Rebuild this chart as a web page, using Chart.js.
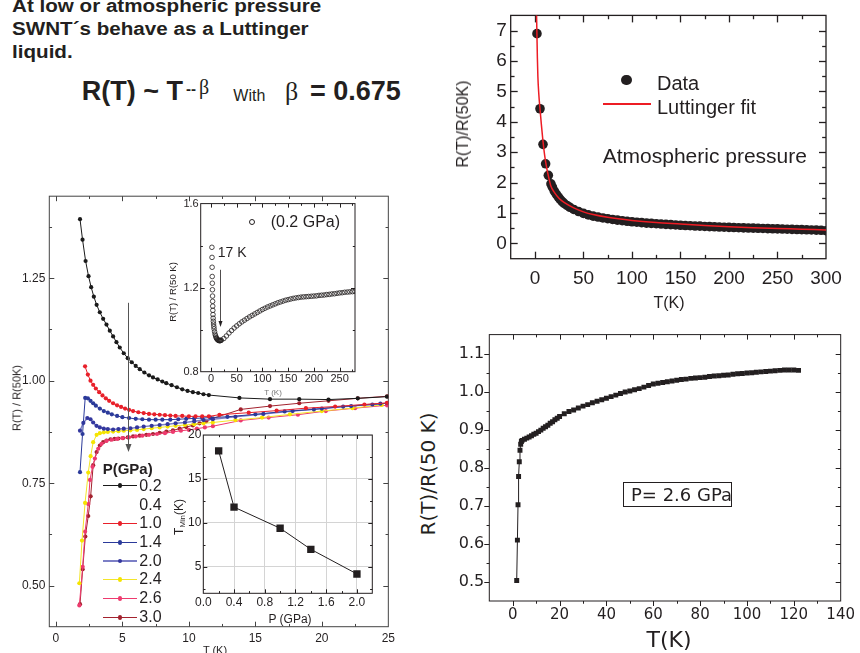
<!DOCTYPE html>
<html>
<head>
<meta charset="utf-8">
<title>SWNT Luttinger liquid</title>
<script src="https://cdn.jsdelivr.net/npm/chart.js@4.4.1/dist/chart.umd.min.js"></script>
<style>
  body { margin: 0; background: #fff; }
  #slide { position: relative; width: 860px; height: 653px; overflow: hidden; font-family: "Liberation Sans", Arial, sans-serif; color: #231f20; }
  #slide canvas { position: absolute; }
  .t { position: absolute; white-space: nowrap; line-height: 1; }
  .c { transform: translate(-50%, -50%); }
  .l { transform: translateY(-50%); }
  .v { transform: translate(-50%, -50%) rotate(-90deg); }
  .dv { font-family: "DejaVu Sans", sans-serif; }
  .sw { position: absolute; }
  sub { font-size: 0.65em; vertical-align: -0.25em; }
</style>
</head>
<body>
<div id="slide">
  <canvas id="cTR" width="420" height="320" style="left:440px;top:0"></canvas>
  <canvas id="cBR" width="420" height="333" style="left:440px;top:320px"></canvas>
  <canvas id="cBL" width="400" height="468" style="left:0;top:185px"></canvas>
  <canvas id="cIn1" width="205" height="195" style="left:160px;top:195px"></canvas>
  <canvas id="cIn2" width="210" height="205" style="left:170px;top:425px"></canvas>

  <!-- slide text -->
  <div class="t" style="left:11.7px;top:-4.9px;font-weight:bold;font-size:18px;line-height:22.7px;transform:scaleX(1.145);transform-origin:0 0">At low or atmospheric pressure<br>SWNT´s behave as a Luttinger<br>liquid.</div>
  <div class="t" style="left:81.7px;top:78.4px;font-weight:bold;font-size:27px">R(T) ~ T</div>
  <div class="t" style="left:186px;top:81px;font-weight:bold;font-size:15px">--</div>
  <div class="t" style="left:199px;top:77px;font-family:'Liberation Serif',serif;font-size:20px">β</div>
  <div class="t" style="left:233.3px;top:88.2px;font-size:16px">With</div>
  <div class="t" style="left:285px;top:79px;font-family:'Liberation Serif',serif;font-size:26px">β</div>
  <div class="t" style="left:310px;top:78.4px;font-weight:bold;font-size:27px">= 0.675</div>

  <!-- top right -->
  <div class="t v" style="left:463px;top:123.5px;font-size:16px">R(T)/R(50K)</div>
  <div class="t c" style="left:669px;top:303px;font-size:16px">T(K)</div>
  <div class="sw" style="left:621.4px;top:74.7px;width:10.6px;height:10.6px;border-radius:50%;background:#231f20"></div>
  <div class="t l" style="left:657px;top:83px;font-size:20px">Data</div>
  <div class="sw" style="left:602.7px;top:103.3px;width:48.3px;height:1.5px;background:#ed1c24"></div>
  <div class="t l" style="left:657px;top:107px;font-size:20px">Luttinger fit</div>
  <div class="t l" style="left:602.7px;top:155px;font-size:21px">Atmospheric pressure</div>

  <!-- bottom right -->
  <div class="t v dv" style="left:428px;top:474px;font-size:20px">R(T)/R(50 K)</div>
  <div class="t c dv" style="left:669px;top:640px;font-size:22px">T(K)</div>
  <div class="sw" style="left:623.3px;top:482.3px;width:109px;height:25px;border:1px solid #231f20;box-sizing:border-box"></div>
  <div class="t l dv" style="left:631px;top:494.5px;font-size:18px">P= 2.6 GPa</div>

  <!-- bottom left -->
  <div class="t v" style="left:16.7px;top:398px;font-size:11px">R(T) / R(50K)</div>
  <div class="t c" style="left:215px;top:650px;font-size:11px">T (K)</div>
  <div class="t l" style="left:102.7px;top:468.3px;font-weight:bold;font-size:15px">P(GPa)</div>
  <div id="legBL"></div>

  <!-- inset: 0.2 GPa -->
  <div class="t v" style="left:173px;top:292px;font-size:9.5px">R(T) / R(50 K)</div>
  <div class="t c" style="left:273px;top:393px;font-size:8px;color:#777">T (K)</div>
  <div class="sw" style="left:248.7px;top:218.7px;width:6px;height:6px;border:1px solid #231f20;border-radius:50%;box-sizing:border-box"></div>
  <div class="t l" style="left:270.7px;top:222px;font-size:16px">(0.2 GPa)</div>
  <div class="t l" style="left:217.7px;top:252px;font-size:14px">17 K</div>

  <!-- inset: T min -->
  <div class="t v" style="left:180px;top:517px;font-size:12px">T<sub>Min</sub>(K)</div>
  <div class="t c" style="left:290px;top:619.3px;font-size:12px">P (GPa)</div>
</div>

<script>
// ---- atmospheric pressure, R(T)/R(50K)
const atmT = [2.07, 5.2, 8.3, 11.0, 13.8, 16.5, 18, 20, 22, 24, 26, 28, 30, 33, 36, 40,
  45, 50, 55, 60, 65, 70, 75, 80, 85, 90, 95, 100, 105, 110, 115, 120, 125, 130, 135, 140,
  145, 150, 155, 160, 165, 170, 175, 180, 185, 190, 195, 200, 205, 210, 215, 220, 225, 230,
  235, 240, 245, 250, 255, 260, 265, 270, 275, 280, 285, 290, 295, 300];
const atmR = [6.90, 4.43, 3.26, 2.62, 2.24, 1.96, 1.85, 1.72, 1.62, 1.53, 1.45, 1.38, 1.32, 1.25, 1.19, 1.12,
  1.05, 0.99, 0.94, 0.90, 0.87, 0.84, 0.815, 0.79, 0.77, 0.75, 0.73, 0.715, 0.70, 0.685, 0.67, 0.66, 0.65, 0.64, 0.63, 0.62,
  0.61, 0.60, 0.59, 0.585, 0.575, 0.57, 0.56, 0.555, 0.55, 0.54, 0.535, 0.53, 0.525, 0.52, 0.515, 0.51, 0.505, 0.50,
  0.495, 0.49, 0.485, 0.48, 0.475, 0.47, 0.465, 0.46, 0.455, 0.45, 0.445, 0.44, 0.435, 0.42];
const fitT = [1.6, 2.0, 2.5, 3, 4, 5, 6.5, 8, 10, 12, 14, 16.5, 20, 25, 30, 40, 50, 60, 75, 100,
  125, 150, 175, 200, 225, 250, 275, 300];
const fitR = [7.6, 6.95, 6.1, 5.5, 4.9, 4.5, 3.95, 3.45, 2.9, 2.5, 2.2, 1.88, 1.68, 1.48, 1.35, 1.17, 1.04, 0.95, 0.86, 0.76,
  0.69, 0.64, 0.59, 0.55, 0.52, 0.495, 0.47, 0.445];
const trXTicks = [0, 50, 100, 150, 200, 250, 300];
const trXLabels = ['0', '50', '100', '150', '200', '250', '300'];
const trYTicks = [0, 1, 2, 3, 4, 5, 6, 7];
const trYLabels = ['0', '1', '2', '3', '4', '5', '6', '7'];

// ---- P = 2.6 GPa, up to 122 K
const p26T = [1.7, 2.0, 2.26, 2.5, 2.8, 3.1, 3.4, 3.7, 4, 5, 6, 7, 8, 9, 10, 11, 12, 13, 14, 15, 16, 17, 18, 19, 20,
  22, 24, 26, 28, 30, 32, 34, 36, 38, 40, 42, 44, 46, 48, 50, 52, 54, 56, 58, 60, 62, 64, 66, 68, 70,
  72, 74, 76, 78, 80, 82, 84, 86, 88, 90, 92, 94, 96, 98, 100, 102, 104, 106, 108, 110, 112, 114, 116, 118, 120, 122];
const p26R = [0.504, 0.610, 0.703, 0.777, 0.816, 0.846, 0.862, 0.869, 0.872, 0.875, 0.878, 0.881, 0.884, 0.888, 0.891,
  0.895, 0.899, 0.904, 0.908, 0.912, 0.917, 0.921, 0.926, 0.930, 0.935,
  0.942, 0.948, 0.952, 0.957, 0.962, 0.966, 0.971, 0.975, 0.979, 0.983, 0.987, 0.991, 0.995, 0.999, 1.002,
  1.005, 1.008, 1.012, 1.016, 1.020, 1.022, 1.024, 1.026, 1.028, 1.030, 1.032, 1.033, 1.035, 1.036, 1.037,
  1.038, 1.040, 1.041, 1.042, 1.043, 1.044, 1.046, 1.047, 1.048, 1.049, 1.050, 1.051, 1.052, 1.053, 1.054,
  1.055, 1.056, 1.057, 1.057, 1.057, 1.056];
const brXTicks = [0, 20, 40, 60, 80, 100, 120, 140];
const brXLabels = ['0', '20', '40', '60', '80', '100', '120', '140'];
const brYTicks = [0.5, 0.6, 0.7, 0.8, 0.9, 1.0, 1.1];
const brYLabels = ['0.5', '0.6', '0.7', '0.8', '0.9', '1.0', '1.1'];

// ---- low temperature curves for each pressure (GPa)
const pressures = ['0.2', '0.4', '1.0', '1.4', '2.0', '2.4', '2.6', '3.0'];
const t02 = [1.81, 2.0, 2.23, 2.45, 2.65, 2.85, 3.06, 3.3, 3.55, 3.8, 4.05, 4.3, 4.55, 4.8, 5.1, 5.4, 5.7, 6.0, 6.3, 6.65,
  7.0, 7.3, 7.65, 8.0, 8.3, 8.7, 9.1, 9.5, 9.9, 10.3, 10.7, 11.1, 11.5, 13.8, 16.1, 18.3, 20.5, 22.7, 24.9];
const r02 = [1.394, 1.344, 1.292, 1.255, 1.228, 1.205, 1.185, 1.167, 1.151, 1.137, 1.122, 1.108, 1.094, 1.081, 1.067, 1.055,
  1.045, 1.036, 1.028, 1.020, 1.013, 1.008, 1.003, 0.998, 0.994, 0.989, 0.984, 0.979, 0.975, 0.972,
  0.970, 0.967, 0.965, 0.958, 0.955, 0.955, 0.954, 0.957, 0.961];
const t10 = [2.19, 2.4, 2.6, 2.8, 3.0, 3.25, 3.5, 3.75, 4.0, 4.3, 4.6, 4.9, 5.2, 5.5, 5.8, 6.2, 6.6, 7.0, 7.4, 7.8,
  8.2, 8.6, 9.0, 9.5, 10.0, 10.5, 11.0, 11.5, 12.3, 14.5, 16.6, 18.8, 21.0, 23.2, 24.9];
const r10 = [1.035, 1.015, 1.000, 0.990, 0.981, 0.972, 0.964, 0.957, 0.951, 0.945, 0.940, 0.936, 0.932, 0.929, 0.926, 0.923,
  0.921, 0.919, 0.918, 0.917, 0.916, 0.915, 0.914, 0.914, 0.913, 0.913, 0.913, 0.913, 0.917, 0.922,
  0.927, 0.933, 0.937, 0.942, 0.946];
const t14 = [1.81, 2.0, 2.2, 2.4, 2.6, 2.8, 3.0, 3.3, 3.6, 3.9, 4.2, 4.6, 5.0, 5.5, 6.0, 6.5, 7.0, 7.5, 8.0, 8.6,
  9.2, 9.8, 10.4, 11.0, 11.6, 12.9, 15.0, 17.2, 19.4, 21.6, 23.8, 24.9];
const r14 = [0.777, 0.870, 0.958, 0.957, 0.951, 0.945, 0.939, 0.932, 0.926, 0.922, 0.918, 0.914, 0.911, 0.909, 0.907, 0.906,
  0.905, 0.905, 0.905, 0.905, 0.906, 0.907, 0.908, 0.909, 0.910, 0.912, 0.918, 0.925, 0.930, 0.937, 0.942, 0.945];
const t20 = [1.81, 2.06, 2.36, 2.6, 2.8, 3.05, 3.3, 3.6, 3.9, 4.3, 4.7, 5.1, 5.6, 6.1, 6.6, 7.2, 7.8, 8.4, 9.0, 9.7,
  10.4, 11.1, 11.8, 13.5, 15.6, 17.8, 20.0, 22.2, 24.4];
const r20 = [0.878, 0.897, 0.909, 0.906, 0.898, 0.890, 0.886, 0.883, 0.882, 0.881, 0.882, 0.883, 0.884, 0.886, 0.888, 0.890,
  0.892, 0.894, 0.896, 0.898, 0.901, 0.904, 0.906, 0.912, 0.919, 0.926, 0.932, 0.938, 0.944];
const t24 = [1.76, 1.96, 2.19, 2.43, 2.61, 2.8, 3.06, 3.3, 3.6, 3.9, 4.3, 4.7, 5.1, 5.6, 6.1, 6.6, 7.2, 7.8, 8.4, 9.0,
  9.7, 10.4, 11.1, 11.8, 13.5, 15.5, 17.6, 20.0, 22.3, 24.5];
const r24 = [0.506, 0.610, 0.702, 0.776, 0.816, 0.850, 0.868, 0.872, 0.874, 0.875, 0.876, 0.877, 0.878, 0.879, 0.880, 0.882,
  0.884, 0.886, 0.888, 0.890, 0.892, 0.894, 0.896, 0.898, 0.904, 0.910, 0.918, 0.926, 0.933, 0.941];
const t26 = [1.76, 2.01, 2.19, 2.43, 2.56, 2.75, 2.93, 3.18, 3.43, 3.8, 4.2, 4.6, 5.0, 5.5, 6.0, 6.5, 7.0, 7.6, 8.2, 8.8,
  9.4, 10.0, 10.6, 11.2, 11.8, 13.9, 16.0, 18.2, 20.3, 22.5, 24.9];
const r26 = [0.452, 0.546, 0.632, 0.699, 0.758, 0.790, 0.810, 0.834, 0.846, 0.853, 0.856, 0.858, 0.860, 0.862, 0.864, 0.866,
  0.868, 0.870, 0.872, 0.875, 0.878, 0.880, 0.883, 0.886, 0.889, 0.903, 0.910, 0.917, 0.926, 0.933, 0.940];
const t30 = [1.81, 2.01, 2.21, 2.43, 2.61, 2.8, 3.06, 3.3, 3.55, 3.8, 4.1, 4.4, 4.7, 5.05, 5.4, 5.8, 6.3, 6.8, 7.3, 7.8,
  8.3, 8.8, 9.3, 9.8, 10.3, 10.8, 11.3, 11.8, 13.9, 16.1, 18.3, 20.5, 22.7, 24.9];
const r30 = [0.455, 0.540, 0.620, 0.670, 0.718, 0.794, 0.826, 0.842, 0.850, 0.854, 0.857, 0.858, 0.859, 0.860, 0.862, 0.864,
  0.866, 0.868, 0.870, 0.873, 0.876, 0.879, 0.883, 0.887, 0.891, 0.896, 0.901, 0.908, 0.930, 0.938,
  0.945, 0.951, 0.957, 0.962];
const blXTicks = [0, 5, 10, 15, 20, 25];
const blXLabels = ['0', '5', '10', '15', '20', '25'];
const blYTicks = [0.5, 0.75, 1.0, 1.25];
const blYLabels = ['0.50', '0.75', '1.00', '1.25'];

// ---- inset: 0.2 GPa up to 280 K
const in1T = [1.8, 2.0, 2.2, 2.4, 2.6, 2.8, 3.0, 3.2, 3.4, 3.6, 3.9, 4.2, 4.6, 5.0, 5.5, 6, 7, 8, 9, 10,
  11, 12, 13, 14, 15, 16, 17, 18, 19, 20, 25, 30, 35, 40, 45, 50, 55, 60, 65, 70,
  75, 80, 85, 90, 95, 100, 105, 110, 115, 120, 125, 130, 135, 140, 145, 150, 155, 160, 165, 170,
  175, 180, 185, 190, 195, 200, 205, 210, 215, 220, 225, 230, 235, 240, 245, 250, 255, 260, 265, 270, 275, 280];
const in1R = [1.392, 1.344, 1.297, 1.253, 1.221, 1.190, 1.160, 1.135, 1.112, 1.092, 1.072, 1.055, 1.040, 1.027, 1.015, 1.004,
  0.990, 0.978, 0.970, 0.963, 0.958, 0.955, 0.952, 0.950, 0.949, 0.948, 0.948, 0.948, 0.949, 0.950,
  0.958, 0.970, 0.984, 0.996, 1.008, 1.018, 1.028, 1.037, 1.045, 1.053, 1.061, 1.068, 1.075, 1.082, 1.089,
  1.096, 1.102, 1.108, 1.113, 1.118, 1.123, 1.128, 1.132, 1.136, 1.140, 1.143, 1.146, 1.149, 1.151, 1.153,
  1.155, 1.156, 1.157, 1.158, 1.159, 1.160, 1.161, 1.163, 1.164, 1.165, 1.167, 1.168, 1.170, 1.171, 1.173,
  1.175, 1.176, 1.178, 1.179, 1.180, 1.181, 1.182];
const in1XTicks = [0, 50, 100, 150, 200, 250];
const in1XLabels = ['0', '50', '100', '150', '200', '250'];
const in1YTicks = [0.8, 1.2, 1.6];
const in1YLabels = ['0.8', '1.2', '1.6'];

// ---- inset: temperature of the minimum vs pressure
const tminP = [0.2, 0.4, 1.0, 1.4, 2.0];
const tminK = [18.2, 11.8, 9.4, 7.0, 4.2];
const in2XTicks = [0, 0.4, 0.8, 1.2, 1.6, 2.0];
const in2XLabels = ['0.0', '0.4', '0.8', '1.2', '1.6', '2.0'];
const in2YTicks = [5, 10, 15, 20];
const in2YLabels = ['5', '10', '15', '20'];

const ink = '#231f20';
const sans = 'Liberation Sans';

function pts(xs, ys) {
  const n = Math.min(xs.length, ys.length);
  return xs.slice(0, n).map((x, i) => ({ x: x, y: ys[i] }));
}

// box round the plot area, with small ticks on all four sides
function frame(f) {
  return {
    id: 'frame',
    beforeDatasetsDraw(chart) {
      const { ctx, chartArea: a, scales } = chart;
      ctx.save();
      ctx.strokeStyle = f.color;
      ctx.lineWidth = f.width;
      ctx.strokeRect(a.left, a.top, a.right - a.left, a.bottom - a.top);
      const seg = (x1, y1, x2, y2) => { ctx.beginPath(); ctx.moveTo(x1, y1); ctx.lineTo(x2, y2); ctx.stroke(); };
      ['x', 'y'].forEach(k => {
        const s = scales[k];
        const major = s.ticks.map(t => t.value);
        const step = major[1] - major[0];
        const minor = major.map(v => v + step / 2).concat([major[0] - step / 2]);
        const put = (vals, len) => vals.forEach(v => {
          if (v < s.min || v > s.max) return;
          const p = Math.round(s.getPixelForValue(v)) + 0.5;
          if (k === 'x') {
            if (p <= a.left + 1 || p >= a.right - 1) return;
            seg(p, a.bottom, p, a.bottom - len * f.lb);
            seg(p, a.top, p, a.top + len * f.tr);
          } else {
            if (p <= a.top + 1 || p >= a.bottom - 1) return;
            seg(a.left, p, a.left + len * f.lb, p);
            seg(a.right, p, a.right - len * f.tr, p);
          }
        });
        put(major, f.len);
        put(minor, f.len * 0.55);
      });
      ctx.restore();
    }
  };
}

// vertical arrows given in data units
function arrows(list) {
  return {
    id: 'arrows',
    afterDatasetsDraw(chart) {
      const { ctx, scales: { x, y } } = chart;
      list.forEach(a => {
        const px = Math.round(x.getPixelForValue(a.x)) + 0.5;
        const p1 = y.getPixelForValue(a.from), p2 = y.getPixelForValue(a.to);
        ctx.save();
        ctx.strokeStyle = a.color;
        ctx.fillStyle = a.color;
        ctx.lineWidth = a.width;
        ctx.beginPath(); ctx.moveTo(px, p1); ctx.lineTo(px, p2 - a.head + 1); ctx.stroke();
        ctx.beginPath(); ctx.moveTo(px, p2); ctx.lineTo(px - a.half, p2 - a.head); ctx.lineTo(px + a.half, p2 - a.head);
        ctx.closePath(); ctx.fill();
        ctx.restore();
      });
    }
  };
}

function axis(a) {
  return {
    type: 'linear', min: a.min, max: a.max,
    afterBuildTicks: s => { s.ticks = a.ticks.map(v => ({ value: v })); },
    afterFit: s => { if (s.isHorizontal()) s.height = a.size; else s.width = a.size; },
    grid: a.grid ? { color: a.grid, drawTicks: false, lineWidth: 1 } : { display: false, drawTicks: false },
    border: { display: false },
    ticks: {
      color: ink, padding: a.pad, font: a.font, autoSkip: false, maxRotation: 0, minRotation: 0,
      callback: (v, i) => a.labels[i]
    }
  };
}

function draw(id, sets, o) {
  return new Chart(document.getElementById(id), {
    type: 'scatter',
    data: { datasets: sets },
    options: {
      responsive: false, animation: false, devicePixelRatio: 1,
      layout: { autoPadding: false, padding: { left: 0, bottom: 0, top: o.top, right: o.right } },
      plugins: { legend: { display: false }, tooltip: { enabled: false } },
      scales: { x: axis(o.x), y: axis(o.y) }
    },
    plugins: [frame(o.frame), arrows(o.arrows || [])]
  });
}

// top right
draw('cTR', [
  { data: pts(fitT, fitR), showLine: true, pointRadius: 0, borderColor: '#ed1c24', borderWidth: 1.5, cubicInterpolationMode: 'monotone' },
  { data: pts(atmT, atmR), showLine: false, pointRadius: 4.8, pointBackgroundColor: ink, pointBorderWidth: 0 }
], {
  top: 12.7, right: 34,
  x: { min: -25, max: 300, ticks: trXTicks, labels: trXLabels, size: 61.3, pad: 9, font: { family: sans, size: 19 } },
  y: { min: -0.5, max: 7.5, ticks: trYTicks, labels: trYLabels, size: 70.7, pad: 4, font: { family: sans, size: 19 } },
  frame: { color: ink, width: 1.3, len: 7, lb: 1, tr: 1 }
});

// bottom right
draw('cBR', [
  { data: pts(p26T, p26R), showLine: true, borderColor: ink, borderWidth: 1, pointStyle: 'rect', pointRadius: 3.5,
    pointBackgroundColor: ink, pointBorderWidth: 0 }
], {
  top: 6, right: 16.7,
  x: { min: -10, max: 140, ticks: brXTicks, labels: brXLabels, size: 52, pad: 5, font: { family: 'DejaVu Sans', size: 15 } },
  y: { min: 0.45, max: 1.15, ticks: brYTicks, labels: brYLabels, size: 49.3, pad: 5, font: { family: 'DejaVu Sans', size: 16 } },
  frame: { color: ink, width: 1, len: 5, lb: -1, tr: 1 }
});

// bottom left, one curve per pressure
const blStyle = {
  '0.2': { line: '#1a1a1a', dot: '#1a1a1a', w: 1 },
  '1.0': { line: '#e8202a', dot: '#e8202a', w: 1 },
  '1.4': { line: '#2b3a9a', dot: '#2b3a9a', w: 1 },
  '2.0': { line: '#7c7fc6', dot: '#33379e', w: 1.5 },
  '2.4': { line: '#f3e52a', dot: '#f5e400', w: 1 },
  '2.6': { line: '#ee3a6e', dot: '#ee3a6e', w: 1 },
  '3.0': { line: '#a3222e', dot: '#a3222e', w: 1 }
};
const blCurves = [['0.2', t02, r02], ['1.0', t10, r10], ['1.4', t14, r14], ['2.0', t20, r20],
  ['2.4', t24, r24], ['2.6', t26, r26], ['3.0', t30, r30]];
draw('cBL', blCurves.map(([p, t, r]) => ({
  label: p, data: pts(t, r), showLine: true, borderColor: blStyle[p].line, borderWidth: blStyle[p].w,
  pointRadius: 2.1, pointBackgroundColor: blStyle[p].dot, pointBorderWidth: 0
})), {
  top: 4.3, right: 8.3,
  x: { min: -0.5, max: 25, ticks: blXTicks, labels: blXLabels, size: 26.3, pad: 5, font: { family: sans, size: 12 } },
  y: { min: 0.4, max: 1.45, ticks: blYTicks, labels: blYLabels, size: 49.3, pad: 4, font: { family: sans, size: 12 } },
  frame: { color: '#444', width: 1, len: 5, lb: 1, tr: 1 },
  arrows: [{ x: 5.4, from: 1.19, to: 0.826, color: '#555', width: 1, head: 8, half: 3 }]
});

// legend of the bottom left chart
const legRows = [485.7, 505, 523.3, 542.3, 561, 579.3, 598.3, 617.3];
const leg = document.getElementById('legBL');
pressures.forEach((p, i) => {
  const y = legRows[i], st = blStyle[p];
  let html = '';
  if (st) {
    html += `<div class="sw" style="left:103px;top:${y - st.w / 2}px;width:34px;height:${st.w}px;background:${st.line}"></div>`;
    html += `<div class="sw" style="left:117.6px;top:${y - 2.4}px;width:4.8px;height:4.8px;border-radius:50%;background:${st.dot}"></div>`;
  }
  html += `<div class="t l" style="left:139.3px;top:${y}px;font-size:16px">${p}</div>`;
  leg.insertAdjacentHTML('beforeend', html);
});

// inset 0.2 GPa
draw('cIn1', [
  { data: pts(in1T, in1R), showLine: false, pointRadius: 2.3, pointBackgroundColor: 'rgba(0,0,0,0)',
    pointBorderColor: ink, pointBorderWidth: 0.8 }
], {
  top: 7.7, right: 10,
  x: { min: -20, max: 280, ticks: in1XTicks, labels: in1XLabels, size: 18.3, pad: 1, font: { family: sans, size: 11 } },
  y: { min: 0.8, max: 1.6, ticks: in1YTicks, labels: in1YLabels, size: 40.7, pad: 2, font: { family: sans, size: 11 } },
  frame: { color: ink, width: 1, len: 4, lb: 1, tr: 1 },
  arrows: [{ x: 18, from: 1.285, to: 1.013, color: ink, width: 0.8, head: 6, half: 2 }]
});

// inset T min
draw('cIn2', [
  { data: pts(tminP, tminK), showLine: true, borderColor: ink, borderWidth: 1, pointStyle: 'rect', pointRadius: 5.2,
    pointBackgroundColor: ink, pointBorderWidth: 0 }
], {
  top: 10, right: 7.7,
  x: { min: 0, max: 2.2, ticks: in2XTicks, labels: in2XLabels, size: 36.7, pad: 2, grid: '#d4d4d4', font: { family: sans, size: 12 } },
  y: { min: 2, max: 20, ticks: in2YTicks, labels: in2YLabels, size: 33.3, pad: 2, grid: '#d4d4d4', font: { family: sans, size: 12 } },
  frame: { color: ink, width: 1, len: 4, lb: 1, tr: 1 }
});
</script>
</body>
</html>
